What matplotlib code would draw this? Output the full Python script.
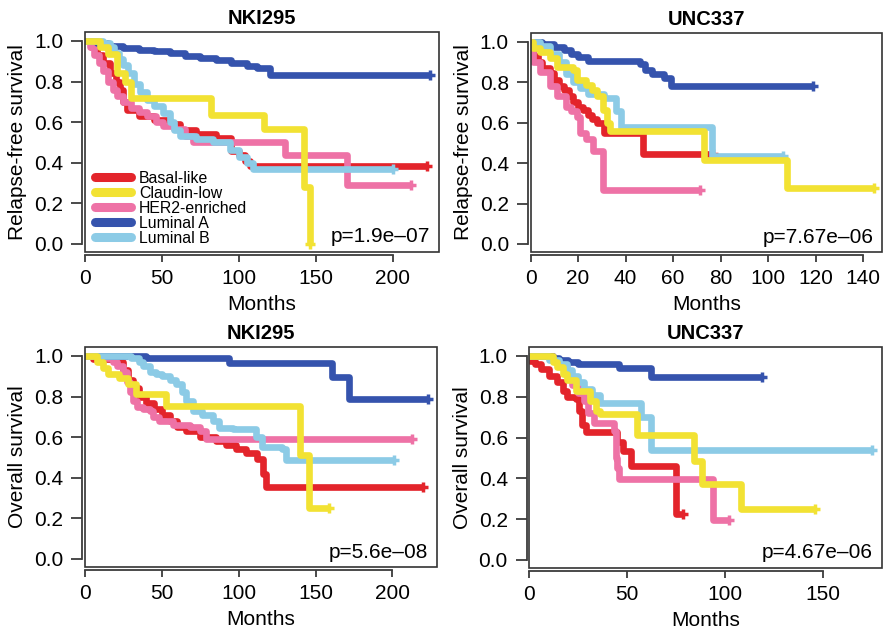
import matplotlib
matplotlib.use("Agg")
from matplotlib import pyplot as plt
from matplotlib.lines import Line2D
from matplotlib.patches import Rectangle

plt.rcParams['font.family'] = ['Liberation Sans', 'DejaVu Sans']

subtypes = ['Basal-like', 'Claudin-low', 'HER2-enriched', 'Luminal A', 'Luminal B']
colors = {'Basal-like': '#e3242b', 'Claudin-low': '#f2e233', 'HER2-enriched': '#ee72a6',
          'Luminal A': '#3553ad', 'Luminal B': '#8ccbe6'}

# NKI295 relapse-free survival
nki_rfs_basal_t = [0, 4, 8, 12, 16, 20, 23, 25, 27, 35, 45, 55, 62, 72, 85, 95, 100, 104, 107, 222]
nki_rfs_basal_s = [1.0, 0.97, 0.93, 0.89, 0.84, 0.8, 0.76, 0.7, 0.66, 0.63, 0.61, 0.59, 0.56, 0.54, 0.52, 0.46, 0.44, 0.41, 0.385, 0.385]
nki_rfs_claudin_t = [0, 10, 15, 21, 26, 30, 82, 116, 142, 146, 146.5]
nki_rfs_claudin_s = [1.0, 0.97, 0.935, 0.84, 0.80, 0.72, 0.635, 0.565, 0.28, 0.0, 0.0]
nki_rfs_her2_t = [0, 3, 6, 9, 12, 15, 18, 21, 25, 30, 35, 40, 46, 51, 58, 65, 70, 130, 170, 212]
nki_rfs_her2_s = [1.0, 0.97, 0.93, 0.89, 0.85, 0.8, 0.76, 0.73, 0.7, 0.67, 0.65, 0.63, 0.6, 0.58, 0.565, 0.53, 0.50, 0.44, 0.29, 0.29]
nki_rfs_luma_t = [0, 8, 15, 25, 35, 45, 55, 65, 75, 85, 95, 105, 112, 120, 224]
nki_rfs_luma_s = [1.0, 0.99, 0.975, 0.965, 0.955, 0.95, 0.94, 0.925, 0.915, 0.905, 0.89, 0.875, 0.865, 0.83, 0.83]
nki_rfs_lumb_t = [0, 12, 16, 19, 22, 25, 28, 32, 36, 40, 45, 51, 55, 58, 62, 72, 83, 94, 100, 105, 109, 200]
nki_rfs_lumb_s = [1.0, 0.99, 0.97, 0.94, 0.91, 0.88, 0.84, 0.79, 0.75, 0.71, 0.68, 0.645, 0.6, 0.56, 0.53, 0.515, 0.50, 0.465, 0.43, 0.40, 0.37, 0.37]

# UNC337 relapse-free survival
unc_rfs_basal_t = [0, 1, 3, 5, 8, 10, 12, 14, 16, 18, 20, 22, 24, 26, 28, 31, 47.5, 77]
unc_rfs_basal_s = [1.0, 0.93, 0.9, 0.87, 0.845, 0.81, 0.78, 0.76, 0.73, 0.70, 0.68, 0.665, 0.64, 0.616, 0.6, 0.55, 0.445, 0.445]
unc_rfs_claudin_t = [0, 1, 4, 8, 11, 18, 19.5, 23.5, 26, 28, 30.5, 32, 33.5, 73, 108, 144.5]
unc_rfs_claudin_s = [1.0, 0.97, 0.95, 0.92, 0.877, 0.86, 0.81, 0.787, 0.76, 0.73, 0.665, 0.6, 0.559, 0.415, 0.276, 0.276]
unc_rfs_her2_t = [0, 1, 4, 8, 11, 15, 17, 19.5, 21, 23.5, 26.5, 30.5, 71.5]
unc_rfs_her2_s = [1.0, 0.9, 0.85, 0.78, 0.73, 0.68, 0.66, 0.63, 0.55, 0.52, 0.46, 0.265, 0.265]
unc_rfs_luma_t = [0, 5, 10, 14, 17, 20, 24, 46, 48, 51, 56, 59, 119]
unc_rfs_luma_s = [1.0, 0.99, 0.975, 0.96, 0.94, 0.925, 0.905, 0.89, 0.86, 0.84, 0.82, 0.78, 0.78]
unc_rfs_lumb_t = [0, 4, 8, 12, 15, 18, 21, 24, 31, 36, 38, 76.3, 106.5]
unc_rfs_lumb_s = [1.0, 0.98, 0.94, 0.9, 0.84, 0.8, 0.77, 0.74, 0.72, 0.66, 0.58, 0.436, 0.436]

# NKI295 overall survival
nki_os_basal_t = [0, 5, 20, 25, 28, 31, 35, 40, 45, 50, 55, 60, 66, 75, 85, 92, 98, 105, 112, 116, 118, 220]
nki_os_basal_s = [1.0, 0.985, 0.97, 0.93, 0.88, 0.84, 0.8, 0.77, 0.74, 0.71, 0.68, 0.65, 0.63, 0.6, 0.58, 0.56, 0.54, 0.52, 0.49, 0.42, 0.355, 0.355]
nki_os_claudin_t = [0, 8, 12, 15, 22, 28, 33, 53, 140, 146, 159]
nki_os_claudin_s = [1.0, 0.97, 0.94, 0.91, 0.89, 0.86, 0.81, 0.755, 0.51, 0.253, 0.253]
nki_os_her2_t = [0, 10, 14, 18, 21, 25, 27, 29, 31, 34, 38, 42, 44, 48, 57, 68, 75, 79, 213]
nki_os_her2_s = [1.0, 0.995, 0.99, 0.97, 0.95, 0.92, 0.87, 0.82, 0.78, 0.75, 0.74, 0.73, 0.70, 0.68, 0.66, 0.65, 0.63, 0.59, 0.59]
nki_os_luma_t = [0, 40, 94, 161, 172, 223]
nki_os_luma_s = [1.0, 0.99, 0.965, 0.895, 0.79, 0.79]
nki_os_lumb_t = [0, 30, 35, 38, 42, 46, 50, 55, 59, 63, 66, 70, 76, 83, 87, 96, 111, 115, 128, 131, 201]
nki_os_lumb_s = [1.0, 0.99, 0.97, 0.95, 0.92, 0.91, 0.9, 0.88, 0.86, 0.82, 0.78, 0.73, 0.71, 0.68, 0.645, 0.64, 0.6, 0.55, 0.54, 0.485, 0.485]

# UNC337 overall survival
unc_os_basal_t = [0, 0.5, 3, 6, 10, 14, 17, 19, 24, 25.5, 27, 29, 45, 48, 52, 75, 78.5]
unc_os_basal_s = [1.0, 0.975, 0.96, 0.935, 0.9, 0.87, 0.83, 0.8, 0.79, 0.73, 0.66, 0.625, 0.58, 0.535, 0.46, 0.225, 0.225]
unc_os_claudin_t = [0, 12, 14, 17, 19, 24, 31, 34, 36, 55, 84, 88, 108, 146]
unc_os_claudin_s = [1.0, 0.97, 0.945, 0.91, 0.88, 0.83, 0.78, 0.73, 0.715, 0.61, 0.487, 0.37, 0.25, 0.25]
unc_os_her2_t = [0, 12, 16, 19, 22, 25, 28, 30, 33, 43, 44, 45, 46, 94, 102]
unc_os_her2_s = [1.0, 0.98, 0.95, 0.9, 0.86, 0.82, 0.78, 0.72, 0.67, 0.63, 0.5, 0.45, 0.395, 0.195, 0.195]
unc_os_luma_t = [0, 12, 15, 20, 25, 46, 62, 119]
unc_os_luma_s = [1.0, 0.99, 0.98, 0.97, 0.96, 0.94, 0.895, 0.895]
unc_os_lumb_t = [0, 10, 15, 19, 22, 25, 28, 32, 36, 57, 62, 175]
unc_os_lumb_s = [1.0, 0.98, 0.96, 0.93, 0.9, 0.87, 0.84, 0.81, 0.77, 0.7, 0.54, 0.54]

panels = [
    dict(title='NKI295', ylabel='Relapse-free survival', p='p=1.9e\u201307', xlim=230,
         xticks=[0, 50, 100, 150, 200], pos=[85, 252, 439, 32],
         curves={'Basal-like': (nki_rfs_basal_t, nki_rfs_basal_s), 'Claudin-low': (nki_rfs_claudin_t, nki_rfs_claudin_s),
                 'HER2-enriched': (nki_rfs_her2_t, nki_rfs_her2_s), 'Luminal A': (nki_rfs_luma_t, nki_rfs_luma_s),
                 'Luminal B': (nki_rfs_lumb_t, nki_rfs_lumb_s)}),
    dict(title='UNC337', ylabel='Relapse-free survival', p='p=7.67e\u201306', xlim=148,
         xticks=[0, 20, 40, 60, 80, 100, 120, 140], pos=[530.5, 252, 882, 33],
         curves={'Basal-like': (unc_rfs_basal_t, unc_rfs_basal_s), 'Claudin-low': (unc_rfs_claudin_t, unc_rfs_claudin_s),
                 'HER2-enriched': (unc_rfs_her2_t, unc_rfs_her2_s), 'Luminal A': (unc_rfs_luma_t, unc_rfs_luma_s),
                 'Luminal B': (unc_rfs_lumb_t, unc_rfs_lumb_s)}),
    dict(title='NKI295', ylabel='Overall survival', p='p=5.6e\u201308', xlim=229,
         xticks=[0, 50, 100, 150, 200], pos=[85, 567, 437, 347],
         curves={'Basal-like': (nki_os_basal_t, nki_os_basal_s), 'Claudin-low': (nki_os_claudin_t, nki_os_claudin_s),
                 'HER2-enriched': (nki_os_her2_t, nki_os_her2_s), 'Luminal A': (nki_os_luma_t, nki_os_luma_s),
                 'Luminal B': (nki_os_lumb_t, nki_os_lumb_s)}),
    dict(title='UNC337', ylabel='Overall survival', p='p=4.67e\u201306', xlim=180,
         xticks=[0, 50, 100, 150], pos=[529.3, 568, 882, 347],
         curves={'Basal-like': (unc_os_basal_t, unc_os_basal_s), 'Claudin-low': (unc_os_claudin_t, unc_os_claudin_s),
                 'HER2-enriched': (unc_os_her2_t, unc_os_her2_s), 'Luminal A': (unc_os_luma_t, unc_os_luma_s),
                 'Luminal B': (unc_os_lumb_t, unc_os_lumb_s)}),
]

W, H = 883, 629
fig = plt.figure(figsize=(W / 100, H / 100), dpi=100)

draw_order = ['Basal-like', 'HER2-enriched', 'Luminal A', 'Luminal B', 'Claudin-low']
axis_col = '#3c3c3c'

for i, pnl in enumerate(panels):
    x0, yb, x1, yt = pnl['pos']
    ax = fig.add_axes([x0 / W, 1 - yb / H, (x1 - x0) / W, (yb - yt) / H])
    for name in draw_order:
        t, s = pnl['curves'][name]
        ax.step(t, s, where='post', color=colors[name], lw=4.8, solid_capstyle='butt')
        ax.plot(t[-1], s[-1], marker='+', ms=7, mew=2.5, color=colors[name])
    ax.set_xlim(0, pnl['xlim'])
    ax.set_ylim(-0.04, 1.044)
    ax.set_xticks(pnl['xticks'])
    ax.set_yticks([0, 0.2, 0.4, 0.6, 0.8, 1.0])
    ax.set_yticklabels(['0.0', '0.2', '0.4', '0.6', '0.8', '1.0'])
    # R-style axes: axis lines span the ticks, offset slightly from the box
    for side in ['top', 'right']:
        ax.spines[side].set_visible(False)
    ax.spines['left'].set_bounds(0, 1)
    ax.spines['bottom'].set_bounds(0, pnl['xticks'][-1])
    for side in ['left', 'bottom']:
        ax.spines[side].set_position(('outward', 2))
        ax.spines[side].set_linewidth(1.3)
        ax.spines[side].set_color(axis_col)
    ax.add_patch(Rectangle((0, 0), 1, 1, transform=ax.transAxes, fill=False,
                           lw=1.2, ec='#333333', clip_on=False, zorder=5))
    ax.tick_params(axis='y', direction='out', length=8, width=1.3, color=axis_col, labelsize=15, pad=5.5)
    ax.tick_params(axis='x', direction='out', length=5, width=1.3, color=axis_col, labelsize=15, pad=5.5)
    ax.set_title(pnl['title'], fontsize=14.5, fontweight='bold', pad=6)
    ax.set_xlabel('Months', fontsize=15, labelpad=4.5)
    ax.set_ylabel(pnl['ylabel'], fontsize=15, labelpad=5)
    ax.text(0.975, 0.025, pnl['p'], transform=ax.transAxes, ha='right', va='bottom', fontsize=15)
    if i == 0:
        handles = [Line2D([0], [0], color=colors[n], lw=6.5, solid_capstyle='round') for n in subtypes]
        ax.legend(handles, subtypes, loc='lower left', bbox_to_anchor=(0.01, 0.0), frameon=False,
                  fontsize=11.4, handlelength=2.3, handletextpad=0.5, labelspacing=0.0,
                  borderaxespad=0.2, borderpad=0.2)

fig.savefig('out.png', dpi=100)
